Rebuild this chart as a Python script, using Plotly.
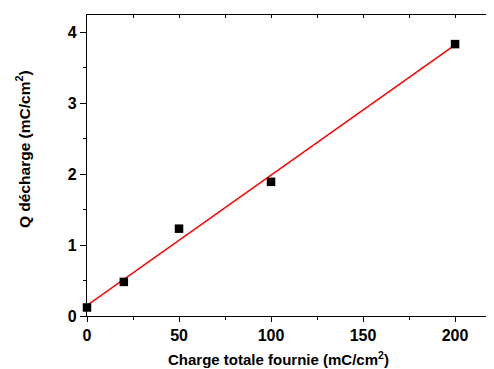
import plotly.graph_objects as go

charge_x = [0, 20, 50, 100, 200]
q_decharge = [0.12, 0.48, 1.23, 1.89, 3.83]
fit_x = [0, 200]
fit_y = [0.15, 3.82]

font_family = "Liberation Sans, Arial, sans-serif"

fig = go.Figure()
fig.add_trace(go.Scatter(x=fit_x, y=fit_y, mode="lines",
                         line=dict(color="#ff0000", width=1.5), showlegend=False))
fig.add_trace(go.Scatter(x=charge_x, y=q_decharge, mode="markers",
                         marker=dict(symbol="square", size=8.5, color="black"),
                         showlegend=False, cliponaxis=False))
# top axis carrier
fig.add_trace(go.Scatter(x=[0], y=[0], xaxis="x2", mode="markers",
                         marker=dict(opacity=0), showlegend=False, hoverinfo="skip"))

XMAX = 225.5

# page body has an 8px margin; layout is sized to compensate
fig.update_layout(
    width=494, height=361,
    margin=dict(l=79, r=0, t=7, b=53),
    plot_bgcolor="white", paper_bgcolor="white",
    font=dict(family=font_family, color="black"),
    xaxis=dict(range=[0, XMAX], tickvals=[0, 50, 100, 150, 200],
               ticks="outside", ticklen=5, tickwidth=1, tickcolor="black",
               minor=dict(tickvals=[25, 75, 125, 175], ticks="outside", ticklen=3,
                          tickcolor="black", tickwidth=1),
               showline=True, linecolor="black", linewidth=1.3,
               showgrid=False, zeroline=False,
               tickfont=dict(size=16, weight="bold", family=font_family)),
    xaxis2=dict(range=[0, XMAX], overlaying="x", side="top",
                tickvals=[0, 25, 50, 75, 100, 125, 150, 175, 200, 225],
                ticks="inside", ticklen=3, tickcolor="black", showticklabels=False,
                showline=True, linecolor="black", linewidth=1.3,
                showgrid=False, zeroline=False),
    yaxis=dict(range=[0, 4.24], tickvals=[0, 1, 2, 3, 4],
               ticks="outside", ticklen=6, tickwidth=1, tickcolor="black",
               minor=dict(tickvals=[0.5, 1.5, 2.5, 3.5], ticks="outside", ticklen=3,
                          tickcolor="black", tickwidth=1),
               showline=True, linecolor="black", linewidth=1.3,
               showgrid=False, zeroline=False,
               tickfont=dict(size=16, weight="bold", family=font_family)),
    annotations=[
        dict(text="Charge totale fournie (mC/cm<sup>2</sup>)", xref="paper", yref="paper",
             x=(278 - 87) / 415, y=0, yshift=-42, xanchor="center", yanchor="middle",
             showarrow=False, font=dict(size=15, weight="bold", family=font_family)),
        dict(text="Q décharge (mC/cm<sup>2</sup>)", xref="paper", yref="paper",
             x=0, xshift=-64, y=(316 - 149) / 301, xanchor="center", yanchor="middle",
             textangle=-90, showarrow=False,
             font=dict(size=15.5, weight="bold", family=font_family)),
    ],
)

fig.write_html("out.html")
